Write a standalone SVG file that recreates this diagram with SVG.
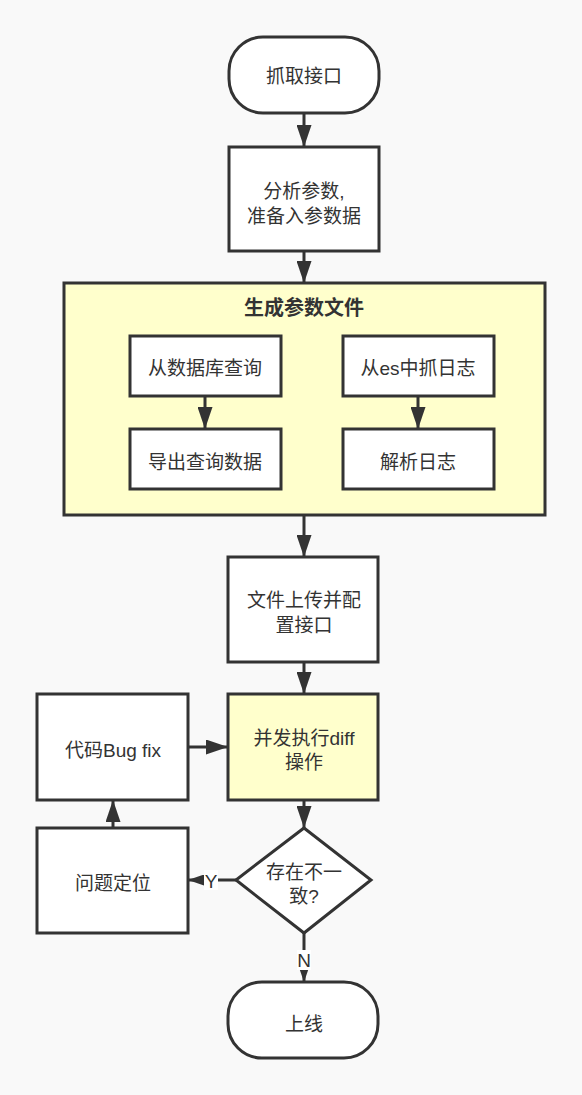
<svg xmlns="http://www.w3.org/2000/svg" width="582" height="1095" viewBox="0 0 582 1095">
<style>
.n{fill:#fff;stroke:#333;stroke-width:3}
.y{fill:#ffffcc;stroke:#333;stroke-width:3}
.t{font-family:"Liberation Sans","Noto Sans CJK SC",sans-serif;font-size:19px;fill:#333;text-anchor:middle;dominant-baseline:central}
.b{font-weight:bold;font-size:20px}
.c{stroke:#333;stroke-width:3;fill:none}
.lb{fill:#fff}
</style>
<defs>
<marker id="A" markerWidth="22" markerHeight="15" refX="22" refY="7.5" orient="auto" markerUnits="userSpaceOnUse" viewBox="0 0 22 15">
<path d="M0,0 L22,7.5 L0,15 Z" fill="#333"/>
</marker>
<marker id="s" markerWidth="16" markerHeight="11" refX="16" refY="5.5" orient="auto" markerUnits="userSpaceOnUse" viewBox="0 0 16 11">
<path d="M0,0 L16,5.5 L0,11 Z" fill="#333"/>
</marker>
</defs>
<rect width="582" height="1095" fill="#f9f9f9"/>
<g id="container">
<rect class="y" x="64" y="283" width="481" height="232"/>
<text class="t b" x="304" y="308">生成参数文件</text>
</g>
<g id="connectors">
<line class="c" x1="304" y1="113" x2="304" y2="147" marker-end="url(#A)"/>
<line class="c" x1="304" y1="251" x2="304" y2="283" marker-end="url(#A)"/>
<line class="c" x1="205" y1="396" x2="205" y2="429" marker-end="url(#A)"/>
<line class="c" x1="418" y1="396" x2="418" y2="429" marker-end="url(#A)"/>
<line class="c" x1="304" y1="515" x2="304" y2="557" marker-end="url(#A)"/>
<line class="c" x1="304" y1="662" x2="304" y2="694" marker-end="url(#A)"/>
<line class="c" x1="188" y1="747" x2="228" y2="747" marker-end="url(#A)"/>
<line class="c" x1="304" y1="800" x2="304" y2="828" marker-end="url(#A)"/>
<line class="c" x1="236" y1="880" x2="188" y2="880" marker-end="url(#s)"/>
<line class="c" x1="113" y1="828" x2="113" y2="800" marker-end="url(#A)"/>
<line class="c" x1="304" y1="933" x2="304" y2="982" marker-end="url(#s)"/>
<rect class="lb" x="204" y="870" width="14" height="20"/>
<text class="t" x="211" y="881">Y</text>
<rect class="lb" x="297" y="950" width="14" height="20"/>
<text class="t" x="304" y="960">N</text>
</g>
<g id="n1">
<rect class="n" x="229" y="37" width="150" height="76" rx="34"/>
<text class="t" x="304" y="76">抓取接口</text>
</g>
<g id="n2">
<rect class="n" x="229" y="147" width="150" height="104"/>
<text class="t" x="304" y="191">分析参数,</text>
<text class="t" x="304" y="216">准备入参数据</text>
</g>
<g id="n3">
<rect class="n" x="130" y="336" width="151" height="60"/>
<text class="t" x="205" y="368">从数据库查询</text>
</g>
<g id="n4">
<rect class="n" x="130" y="429" width="151" height="60"/>
<text class="t" x="205" y="462">导出查询数据</text>
</g>
<g id="n5">
<rect class="n" x="343" y="336" width="151" height="60"/>
<text class="t" x="418" y="368">从es中抓日志</text>
</g>
<g id="n6">
<rect class="n" x="343" y="429" width="151" height="60"/>
<text class="t" x="418" y="462">解析日志</text>
</g>
<g id="n7">
<rect class="n" x="228" y="557" width="150" height="105"/>
<text class="t" x="304" y="600">文件上传并配</text>
<text class="t" x="304" y="625">置接口</text>
</g>
<g id="n8">
<rect class="y" x="228" y="694" width="150" height="106"/>
<text class="t" x="304" y="738">并发执行diff</text>
<text class="t" x="304" y="762">操作</text>
</g>
<g id="n9">
<rect class="n" x="37" y="694" width="151" height="106"/>
<text class="t" x="113" y="750">代码Bug fix</text>
</g>
<g id="n10">
<path class="n" d="M304,828 L371,880 L304,933 L236,880 Z"/>
<text class="t" x="304" y="872">存在不一</text>
<text class="t" x="304" y="896">致?</text>
</g>
<g id="n11">
<rect class="n" x="37" y="828" width="151" height="105"/>
<text class="t" x="113" y="883">问题定位</text>
</g>
<g id="n12">
<rect class="n" x="228" y="982" width="150" height="76" rx="34"/>
<text class="t" x="304" y="1024">上线</text>
</g>
</svg>
